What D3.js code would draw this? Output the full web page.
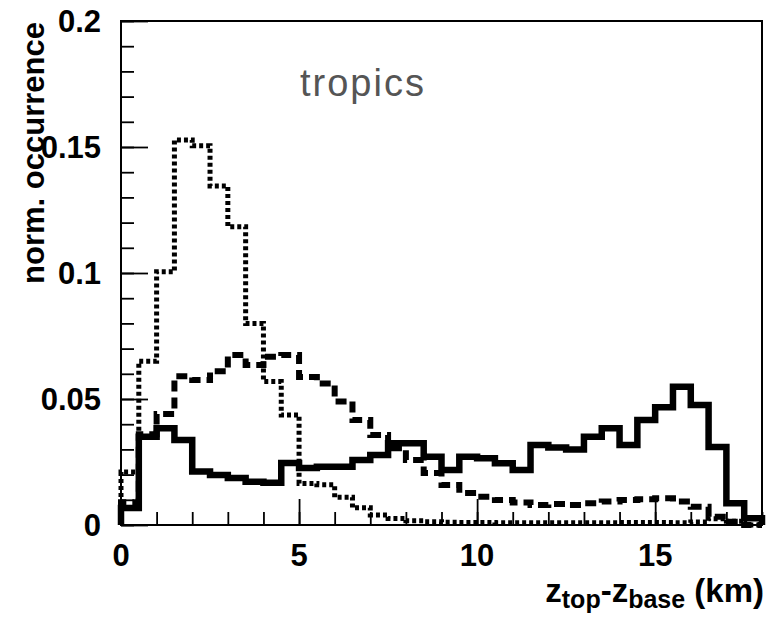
<!DOCTYPE html>
<html>
<head>
<meta charset="utf-8">
<script src="https://cdn.jsdelivr.net/npm/d3@7"></script>
<style>
  body { margin: 0; background: #fff; }
  svg { display: block; font-family: "Liberation Sans", Arial, sans-serif; }
</style>
</head>
<body>
<svg id="chart" width="767" height="617"></svg>
<script>
// histogram bins, 0.5 km wide, 0..18 km
var binWidth = 0.5;

var solidVals = [0.0067, 0.035, 0.0384, 0.0337, 0.0212, 0.0198, 0.0187, 0.0172, 0.0168, 0.0246,
  0.0226, 0.0231, 0.0231, 0.0258, 0.0278, 0.0324, 0.0324, 0.0271, 0.0218, 0.0271,
  0.0265, 0.0245, 0.0218, 0.0317, 0.0308, 0.030, 0.035, 0.0384, 0.0317, 0.0417,
  0.0467, 0.0549, 0.0476, 0.031, 0.0086, 0.0027];

var dashedVals = [0.009, 0.036, 0.044, 0.059, 0.0575, 0.061, 0.0675, 0.0635, 0.0668, 0.0675,
  0.0587, 0.0562, 0.049, 0.0417, 0.0357, 0.0305, 0.0258, 0.0206, 0.0159, 0.0127,
  0.0112, 0.0099, 0.0089, 0.0079, 0.0083, 0.0079, 0.0086, 0.0093, 0.0099, 0.0102,
  0.0106, 0.0093, 0.0072, 0.0033, 0.0013, 0.0];

var dottedVals = [0.021, 0.065, 0.1005, 0.1528, 0.1505, 0.1345, 0.1184, 0.080, 0.0569, 0.0437,
  0.0165, 0.016, 0.011, 0.0068, 0.004, 0.0026, 0.0017, 0.0013, 0.0011, 0.001,
  0.001, 0.0009, 0.0009, 0.0009, 0.0009, 0.0009, 0.0009, 0.0009, 0.001, 0.001,
  0.001, 0.0009, 0.0012, 0.0025, 0.0015, 0.0];

var yMajor = [0, 0.05, 0.1, 0.15, 0.2];
var yMajorLabels = ["0", "0.05", "0.1", "0.15", "0.2"];
var xMajor = [0, 5, 10, 15];
var xMajorLabels = ["0", "5", "10", "15"];

(function () {
  var svg = d3.select("#chart"),
    left = 121, right = 762, plotTop = 21, plotBottom = 525;

  var x = d3.scaleLinear().domain([0, 18]).range([left, right]);
  var y = d3.scaleLinear().domain([0, 0.2]).range([plotBottom, plotTop]);

  function stepPoints(vals) {
    var pts = [[0, 0]];
    vals.forEach(function (v, i) {
      pts.push([i * binWidth, v]);
      pts.push([(i + 1) * binWidth, v]);
    });
    pts.push([vals.length * binWidth, 0]);
    return pts;
  }

  var line = d3.line()
    .x(function (d) { return x(d[0]); })
    .y(function (d) { return y(d[1]); });

  var plot = svg.append("g");

  plot.append("path")
    .attr("d", line(stepPoints(dottedVals)))
    .attr("fill", "none")
    .attr("stroke", "#000")
    .attr("stroke-width", 5)
    .attr("stroke-dasharray", "4,3");

  plot.append("path")
    .attr("d", line(stepPoints(dashedVals)))
    .attr("fill", "none")
    .attr("stroke", "#000")
    .attr("stroke-width", 6)
    .attr("stroke-dasharray", "11,6");

  plot.append("path")
    .attr("d", line(stepPoints(solidVals)))
    .attr("fill", "none")
    .attr("stroke", "#000")
    .attr("stroke-width", 6.5);

  // ticks (inside the frame)
  function strip(g) {
    g.select(".domain").remove();
    g.selectAll("text").remove();
    g.selectAll("line").attr("stroke", "#000").attr("stroke-width", 1.8);
  }

  svg.append("g")
    .attr("transform", "translate(" + left + ",0)")
    .call(d3.axisRight(y).tickValues(d3.range(0, 0.2001, 0.01)).tickSize(13))
    .call(strip);
  svg.append("g")
    .attr("transform", "translate(" + left + ",0)")
    .call(d3.axisRight(y).tickValues(yMajor).tickSize(27))
    .call(strip);

  svg.append("g")
    .attr("transform", "translate(0," + plotBottom + ")")
    .call(d3.axisTop(x).tickValues(d3.range(0, 19, 1)).tickSize(13))
    .call(strip);
  svg.append("g")
    .attr("transform", "translate(0," + plotBottom + ")")
    .call(d3.axisTop(x).tickValues(xMajor).tickSize(26))
    .call(strip);

  // frame
  svg.append("rect")
    .attr("x", left).attr("y", plotTop)
    .attr("width", right - left).attr("height", plotBottom - plotTop)
    .attr("fill", "none").attr("stroke", "#000").attr("stroke-width", 2);

  // tick labels
  svg.append("g").selectAll("text")
    .data(yMajor)
    .enter().append("text")
    .attr("x", 101)
    .attr("y", function (d) { return y(d); })
    .attr("dy", "0.36em")
    .attr("text-anchor", "end")
    .attr("font-size", 31)
    .attr("font-weight", "bold")
    .text(function (d, i) { return yMajorLabels[i]; });

  svg.append("g").selectAll("text")
    .data(xMajor)
    .enter().append("text")
    .attr("x", function (d) { return x(d); })
    .attr("y", 555)
    .attr("dy", "0.36em")
    .attr("text-anchor", "middle")
    .attr("font-size", 31)
    .attr("font-weight", "bold")
    .text(function (d, i) { return xMajorLabels[i]; });

  // axis titles
  svg.append("text")
    .attr("transform", "translate(44,22) rotate(-90)")
    .attr("text-anchor", "end")
    .attr("font-size", 31)
    .attr("font-weight", "bold")
    .text("norm. occurrence");

  var xt = svg.append("text")
    .attr("x", 764)
    .attr("y", 602)
    .attr("text-anchor", "end")
    .attr("font-size", 33)
    .attr("font-weight", "bold");
  xt.append("tspan").text("z");
  xt.append("tspan").attr("font-size", 25).attr("dy", 6).text("top");
  xt.append("tspan").attr("dy", -6).text("-z");
  xt.append("tspan").attr("font-size", 25).attr("dy", 6).text("base");
  xt.append("tspan").attr("dy", -6).text(" (km)");

  svg.append("text")
    .attr("x", 300)
    .attr("y", 96)
    .attr("font-size", 38)
    .attr("fill", "#555")
    .attr("letter-spacing", 2)
    .text("tropics");
})();
</script>
</body>
</html>
